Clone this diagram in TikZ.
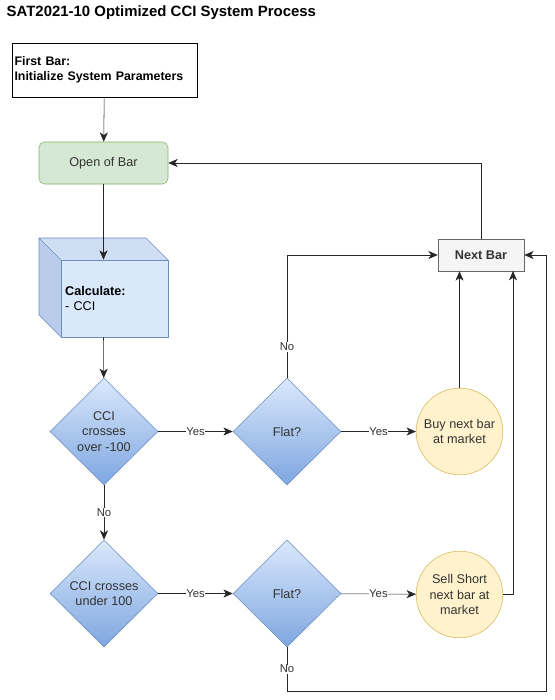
\documentclass[tikz,border=0pt]{standalone}
\usepackage{fontspec}
\setmainfont{Liberation Sans}
\usetikzlibrary{shapes.geometric, arrows.meta}

\definecolor{boxblue}{HTML}{DAE8FC}
\definecolor{lineblue}{HTML}{6C8EBF}
\definecolor{darkblue}{HTML}{7EA6E0}
\definecolor{boxgreen}{HTML}{D5E8D4}
\definecolor{linegreen}{HTML}{82B366}
\definecolor{boxyellow}{HTML}{FFF2CC}
\definecolor{lineyellow}{HTML}{D6B656}
\definecolor{boxgray}{HTML}{F5F5F5}
\definecolor{linegray}{HTML}{666666}
\definecolor{textgray}{HTML}{333333}

\tikzset{
  flow/.style={draw=black!85, -{Stealth[length=7pt, width=6pt, inset=2pt]}},
  decide/.style={diamond, draw=lineblue, top color=boxblue, bottom color=darkblue,
    minimum width=81pt, minimum height=80.25pt, inner sep=0pt, align=center,
    font=\fontsize{9.5}{11.5}\selectfont, text=textgray},
  order/.style={circle, draw=lineyellow, fill=boxyellow, minimum size=65pt,
    inner sep=0pt, align=center, font=\fontsize{9.5}{11.5}\selectfont, text=textgray},
  tag/.style={fill=white, inner sep=0.5pt, font=\fontsize{8.5}{10}\selectfont, text=textgray}
}

\begin{document}
\begin{tikzpicture}[x=0.75pt, y=-0.75pt]
  \useasboundingbox (0,0) rectangle (555,700);

  % title
  \node[anchor=west, font=\bfseries\fontsize{11.2}{13}\selectfont] (title) at (2,13) {SAT2021-10 Optimized CCI System Process};

  % start
  \node[draw, semithick, fill=white, minimum width=138.75pt, minimum height=40.5pt, inner sep=1.5pt,
    align=left, text width=135pt, font=\bfseries\fontsize{9.3}{11.5}\selectfont] (first) at (104.5,70) {First Bar:\\Initialize System Parameters};

  \node[draw=linegreen, fill=boxgreen, rounded corners=4pt, minimum width=96.75pt, minimum height=31.5pt,
    font=\fontsize{9.5}{11.5}\selectfont, text=textgray] (open) at (103.5,163) {Open of Bar};

  % cube
  \fill[boxblue!80!lineblue!80!white] (39,238) -- (146,238) -- (168,260) -- (61,260) -- cycle;
  \fill[boxblue!70!lineblue] (39,238) -- (61,260) -- (61,337) -- (39,315) -- cycle;
  \draw[lineblue] (39,238) -- (146,238) -- (168,260) (39,238) -- (61,260) (39,238) -- (39,315) -- (61,337);
  \node[draw=lineblue, fill=boxblue, minimum width=80.25pt, minimum height=57.75pt, inner sep=3pt,
    align=left, text width=74pt, font=\fontsize{9.5}{11.5}\selectfont] (calc) at (114.5,298.5) {\textbf{Calculate:}\\- CCI};

  % decisions
  \node[decide] (over) at (104,431.5) {CCI\\crosses\\over -100};
  \node[decide] (flatA) at (287,431.5) {Flat?};
  \node[order] (buy) at (459.5,431.5) {Buy next bar\\at market};

  \node[decide] (under) at (104,593.5) {CCI crosses\\under 100};
  \node[decide] (flatB) at (287,593.5) {Flat?};
  \node[order] (sell) at (459.5,594.5) {Sell Short\\next bar at\\market};

  \node[draw=linegray, fill=boxgray, minimum width=64.5pt, minimum height=24pt,
    font=\bfseries\fontsize{9.5}{11.5}\selectfont, text=textgray] (next) at (481,255) {Next Bar};

  \coordinate (sellup) at (513,271);
  \coordinate (loop) at (546,691);

  % connectors
  \draw[flow] (first) -- (open);
  \draw[flow] (open) -- (calc.north -| open);
  \draw[flow] (calc.south -| open) -- (over);
  \draw[flow] (over) -- node[tag] {Yes} (flatA);
  \draw[flow] (flatA) -- node[tag] {Yes} (buy);
  \draw[flow] (over) -- node[tag] {No} (under);
  \draw[flow] (under) -- node[tag] {Yes} (flatB);
  \draw[flow] (flatB) -- node[tag] {Yes} (sell);
  \draw[flow] (flatA.north) -- node[tag, pos=0.25] {No} (flatA.north |- next) -- (next.west);
  \draw[flow] (buy.north) -- (buy.north |- next.south);
  \draw[flow] (sell.east) -| (sellup);
  \draw[flow] (flatB.south) -- node[tag, pos=0.5] {No} (flatB.south |- loop) -- (loop) |- (next.east);
  \draw[flow] (next.north) |- (open.east);
\end{tikzpicture}
\end{document}
